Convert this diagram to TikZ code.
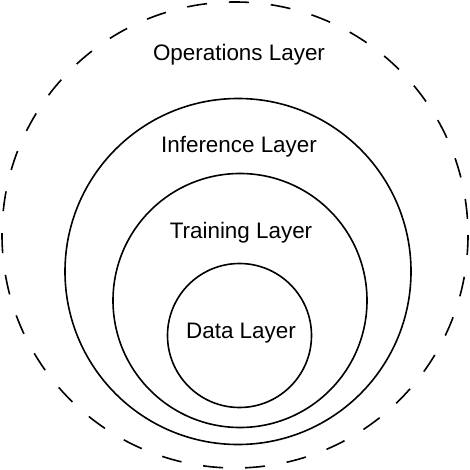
\documentclass[tikz,border=0pt]{standalone}
\usepackage{fontspec}
\setmainfont{Liberation Sans}

\tikzset{
    layer/.style={draw, line width=1.6bp},
    outerlayer/.style={draw, line width=1.6bp, dash pattern=on 20bp off 22bp},
    label/.style={font=\fontsize{22.5}{26}\selectfont, inner sep=0pt}
}

\begin{document}
\begin{tikzpicture}[x=1bp, y=-1bp]
\begin{scope}
    \useasboundingbox (0,0) rectangle (470,470);

    % rings
    \draw[outerlayer] (235,235) circle (233);
    \draw[layer] (238,271.5) circle (173);
    \draw[layer] (240,300.5) circle (127);
    \draw[layer] (239.5,335.5) circle (72);

    % names
    \node (ops) at (239,55) [label] {Operations Layer};
    \node (inf) at (239,147) [label] {Inference Layer};
    \node (trn) at (241,233) [label] {Training Layer};
    \node (dat) at (241,333) [label] {Data Layer};

\end{scope}
\end{tikzpicture}
\end{document}
